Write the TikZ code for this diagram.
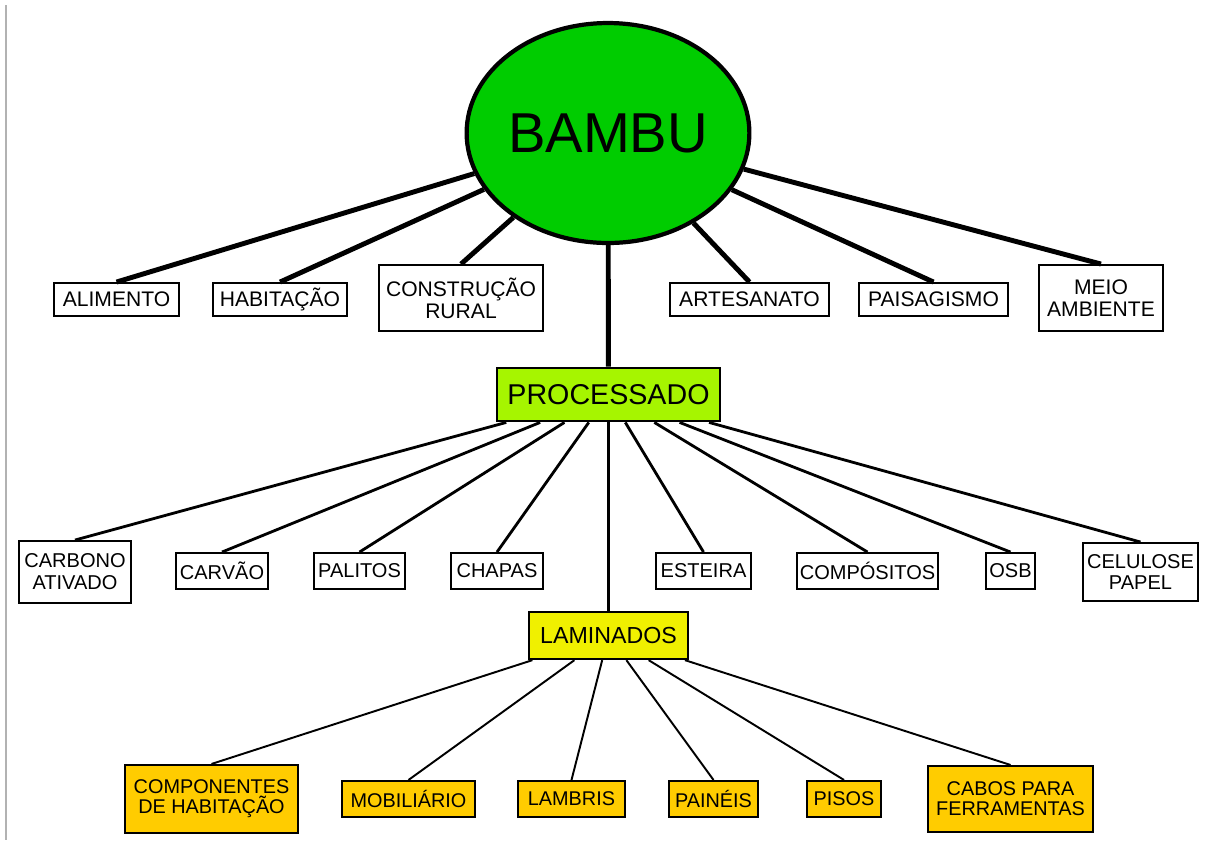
\documentclass[tikz,border=0pt]{standalone}
\usepackage{fontspec}
\setmainfont{Liberation Sans}
\usetikzlibrary{shapes.geometric}

\definecolor{bambugreen}{RGB}{0,204,0}
\definecolor{procgreen}{RGB}{166,245,0}
\definecolor{lamyellow}{RGB}{240,240,0}
\definecolor{prodgold}{RGB}{255,204,0}

\tikzset{
  usebox/.style={draw, fill=white, line width=1.1pt, inner sep=0pt, align=center,
    minimum height=0.66cm, font=\fontsize{12}{12.5}\selectfont},
  subbox/.style={draw, fill=white, line width=1.1pt, inner sep=0pt, align=center,
    minimum height=0.72cm, font=\fontsize{11.4}{12.5}\selectfont},
  prodbox/.style={draw, fill=prodgold, line width=1.2pt, inner sep=0pt, align=center,
    minimum height=0.72cm, font=\fontsize{11.3}{11.5}\selectfont},
  mainlink/.style={line width=2.8pt},
  sublink/.style={line width=1.6pt},
  prodlink/.style={line width=1.1pt}
}

\begin{document}
\begin{tikzpicture}[x=0.02cm, y=-0.02cm]
\useasboundingbox (0,0) rectangle (1209,840);
\draw[gray!60, line width=1pt] (6,5)--(6,840);

\node[ellipse, draw, fill=bambugreen, line width=2.4pt, inner sep=0pt,
  minimum width=5.26cm, minimum height=4.4cm, font=\fontsize{32}{32}\selectfont] (bambu) at (608,133) {BAMBU};

\node[usebox, minimum width=2.5cm] (alimento) at (116.5,299.5) {ALIMENTO};
\node[usebox, minimum width=2.68cm] (habitacao) at (280,299.5) {HABITAÇÃO};
\node[usebox, minimum width=3.28cm, minimum height=1.32cm] (construcao) at (461,298) {CONSTRUÇÃO\\RURAL};
\node[usebox, minimum width=3.18cm] (artesanato) at (749.5,299.5) {ARTESANATO};
\node[usebox, minimum width=2.98cm] (paisagismo) at (933.5,299.5) {PAISAGISMO};
\node[usebox, minimum width=2.48cm, minimum height=1.32cm] (meio) at (1101,298) {MEIO\\AMBIENTE};

\node[draw, fill=procgreen, line width=1.6pt, inner sep=0pt, minimum width=4.46cm, minimum height=1.06cm,
  font=\fontsize{16.3}{16.3}\selectfont] (processado) at (608.5,394.5) {PROCESSADO};

\node[subbox, minimum width=2.24cm, minimum height=1.24cm] (carbono) at (75,572) {CARBONO\\ATIVADO};
\node[subbox, minimum width=1.84cm] (carvao) at (222,571) {CARVÃO};
\node[subbox, minimum width=1.82cm] (palitos) at (359.5,571) {PALITOS};
\node[subbox, minimum width=1.84cm] (chapas) at (497,571) {CHAPAS};
\node[subbox, minimum width=1.9cm] (esteira) at (703.5,571) {ESTEIRA};
\node[subbox, minimum width=2.82cm] (compositos) at (867.5,571) {COMPÓSITOS};
\node[subbox, minimum width=0.98cm] (osb) at (1010.5,571) {OSB};
\node[subbox, minimum width=2.3cm, minimum height=1.16cm] (celulose) at (1140.5,572) {CELULOSE\\PAPEL};

\node[draw, fill=lamyellow, line width=1.3pt, inner sep=0pt, minimum width=3.18cm, minimum height=0.94cm,
  font=\fontsize{13.2}{13.2}\selectfont] (laminados) at (608.5,635.5) {LAMINADOS};

\node[prodbox, minimum width=3.46cm, minimum height=1.36cm] (componentes) at (211.5,799) {COMPONENTES\\DE HABITAÇÃO};
\node[prodbox, minimum width=2.66cm] (mobiliario) at (408.5,799) {MOBILIÁRIO};
\node[prodbox, minimum width=2.14cm] (lambris) at (571.5,799) {LAMBRIS};
\node[prodbox, minimum width=1.78cm] (paineis) at (713.5,799) {PAINÉIS};
\node[prodbox, minimum width=1.48cm] (pisos) at (844,799) {PISOS};
\node[prodbox, minimum width=3.3cm, minimum height=1.32cm] (cabos) at (1010.5,799) {CABOS PARA\\FERRAMENTAS};

\draw[mainlink] (bambu)--(alimento.north);
\draw[mainlink] (bambu)--(habitacao.north);
\draw[mainlink] (bambu)--(construcao.north);
\draw[mainlink] (bambu)--(artesanato.north);
\draw[mainlink] (bambu)--(paisagismo.north);
\draw[mainlink] (bambu)--(meio.north);
\draw[mainlink] (bambu)--(processado);

\draw[sublink] (processado)--(carbono.north);
\draw[sublink] (processado)--(carvao.north);
\draw[sublink] (processado)--(palitos.north);
\draw[sublink] (processado)--(chapas.north);
\draw[sublink] (processado)--(esteira.north);
\draw[sublink] (processado)--(compositos.north);
\draw[sublink] (processado)--(osb.north);
\draw[sublink] (processado)--(celulose.north);
\draw[sublink] (processado)--(laminados);

\draw[prodlink] (laminados)--(componentes.north);
\draw[prodlink] (laminados)--(mobiliario.north);
\draw[prodlink] (laminados)--(lambris.north);
\draw[prodlink] (laminados)--(paineis.north);
\draw[prodlink] (laminados)--(pisos.north);
\draw[prodlink] (laminados)--(cabos.north);
\end{tikzpicture}
\end{document}
